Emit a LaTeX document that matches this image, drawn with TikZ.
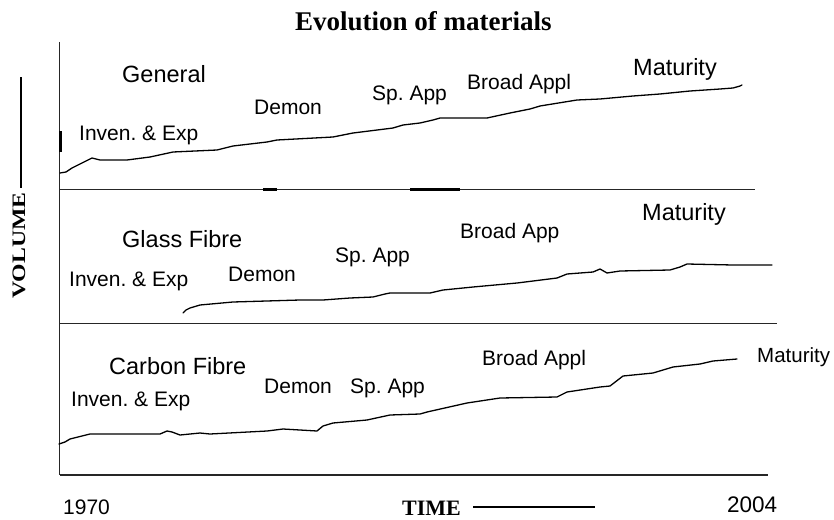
\documentclass[tikz,border=0pt]{standalone}
\usepackage{fontspec}
\setmainfont{Liberation Serif}
\setsansfont{Liberation Sans}
\frenchspacing
\begin{document}
\begin{tikzpicture}[x=1pt,y=-1pt,
  lblS/.style={font=\sffamily\frenchspacing\fontsize{21}{24}\selectfont, anchor=base west, inner sep=0pt},
  lblL/.style={font=\sffamily\frenchspacing\fontsize{23.5}{27}\selectfont, anchor=base west, inner sep=0pt},
  boldlbl/.style={font=\rmfamily\bfseries\fontsize{22}{26}\selectfont, anchor=base west, inner sep=0pt},
  axisline/.style={line width=1.6pt, draw=black!85},
  curve/.style={line width=1.3pt, line join=round, line cap=round},
  thickbit/.style={line width=3pt}]
\useasboundingbox (0,0) rectangle (834,519);

% title
\node[font=\rmfamily\bfseries\fontsize{27}{31}\selectfont, anchor=base west, inner sep=0pt] (title) at (295,31) {Evolution of materials};

% axes and panel dividers
\coordinate (axtop) at (59.5,42);
\coordinate (axbot) at (59.5,475);
\coordinate (d1l) at (59.5,189.3);
\coordinate (d1r) at (755,189.3);
\coordinate (d2l) at (59.5,323.3);
\coordinate (d2r) at (777,323.3);
\coordinate (bl) at (59.5,475);
\coordinate (br) at (768,475);
\draw[axisline] (axtop) -- (axbot);
\draw[axisline] (d1l) -- (d1r);
\draw[axisline] (d2l) -- (d2r);
\draw[axisline] (bl) -- (br);
\draw[thickbit] (263,189) -- (277,189);
\draw[thickbit] (410,189.5) -- (460,189.5);
\draw[line width=2.5pt] (60.5,131) -- (60.5,152);

% VOLUME label and line
\node[font=\rmfamily\bfseries\fontsize{19}{22}\selectfont, rotate=90, anchor=base, inner sep=0pt] (vol) at (25,245.5) {\scalebox{1.25}[1]{VOLUME}};
\coordinate (vl1) at (21,77);
\coordinate (vl2) at (21,188);
\draw[line width=1.5pt] (vl1) -- (vl2);

% TIME label and line
\node[boldlbl] (time) at (402,515) {TIME};
\coordinate (tl1) at (473,507);
\coordinate (tl2) at (595,507);
\draw[line width=1.5pt] (tl1) -- (tl2);

\node[lblS] (y1970) at (63,514) {1970};
\node[font=\sffamily\fontsize{22.5}{26}\selectfont, anchor=base west, inner sep=0pt] (y2004) at (727,512) {2004};

% General panel
\node[lblL] (gen) at (122,82) {General};
\node[lblS] (g1) at (79,140) {Inven. \& Exp};
\node[lblS] (g2) at (254,114) {Demon};
\node[lblS] (g3) at (372,100) {Sp. App};
\node[lblS] (g4) at (467,89) {Broad Appl};
\node[lblL] (g5) at (633,75) {Maturity};
\draw[curve] (60,173) -- (66,172) -- (72,168) -- (80,164) -- (88,160) -- (92,158) -- (100,160) -- (127,160) -- (150,157) -- (173,152) -- (217,150) -- (233,146) -- (267,142) -- (277,140) -- (333,137) -- (353,133) -- (393,128) -- (403,125) -- (420,123) -- (433,120) -- (440,118) -- (487,118) -- (510,113) -- (530,109) -- (540,106) -- (577,100) -- (600,99) -- (633,96) -- (660,94) -- (690,91) -- (720,89) -- (733,88) -- (740,86) -- (742,85);

% Glass fibre panel
\node[lblL] (gla) at (122,247) {Glass Fibre};
\node[lblS] (m1) at (69,286) {Inven. \& Exp};
\node[lblS] (m2) at (228,281) {Demon};
\node[lblS] (m3) at (335,262) {Sp. App};
\node[lblS] (m4) at (460,238) {Broad App};
\node[lblL] (m5) at (642,220) {Maturity};
\draw[curve] (183,313) -- (186,310) -- (190,308) -- (200,305) -- (233,302) -- (300,300) -- (323,300) -- (350,298) -- (373,297) -- (385,294) -- (390,293) -- (430,293) -- (443,290) -- (473,287) -- (517,283) -- (533,281) -- (557,278) -- (567,274) -- (593,272) -- (600,269) -- (607,273) -- (620,271) -- (670,270) -- (680,267) -- (687,264) -- (733,265) -- (772,265);

% Carbon fibre panel
\node[lblL] (car) at (109,374) {Carbon Fibre};
\node[lblS] (c1) at (71,406) {Inven. \& Exp};
\node[lblS] (c2) at (264,393) {Demon};
\node[lblS] (c3) at (350,393) {Sp. App};
\node[lblS] (c4) at (482,365) {Broad Appl};
\node[font=\sffamily\fontsize{20.5}{24}\selectfont, anchor=base west, inner sep=0pt] (c5) at (757,362) {Maturity};
\draw[curve] (59,444) -- (65,442) -- (70,439) -- (90,434) -- (160,434) -- (167,431) -- (172,432) -- (180,435) -- (200,433) -- (210,434) -- (267,431) -- (283,429) -- (317,431) -- (323,426) -- (333,423) -- (367,420) -- (390,415) -- (420,414) -- (427,412) -- (467,403) -- (500,398) -- (557,397) -- (567,392) -- (600,387) -- (610,386) -- (623,376) -- (653,373) -- (673,367) -- (700,364) -- (713,361) -- (737,359);
\end{tikzpicture}
\end{document}
